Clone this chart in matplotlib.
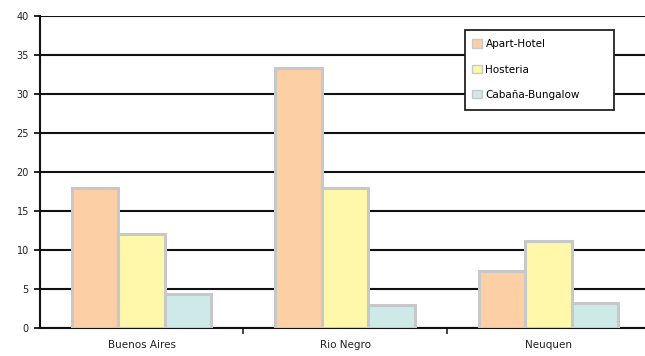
import numpy as np
import matplotlib
matplotlib.use("Agg")
import matplotlib.pyplot as plt
from matplotlib.patches import Patch, Rectangle

plt.rcParams['font.family'] = ['DejaVu Sans']

regions = ['Buenos Aires', 'Rio Negro', 'Neuquen']
apart_hotel = [18, 33.3, 7.3]
hosteria = [12, 18, 11.2]
cabana = [4.4, 3, 3.2]
series_names = ['Apart-Hotel', 'Hosteria', 'Cabaña-Bungalow']
colors = ['#fdcfa5', '#fff8aa', '#cde9e8']
edge = '#c6c8ca'

fig = plt.figure(figsize=(6.45, 3.56), dpi=100)
ax = fig.add_axes([40 / 645, 28 / 356, 610 / 645, 312 / 356])

x = np.arange(len(regions))
w = 0.228
for i, vals in enumerate([apart_hotel, hosteria, cabana]):
    ax.bar(x + (i - 1) * w, vals, width=w, color=colors[i],
           edgecolor=edge, linewidth=2.2, zorder=3)

ax.set_xlim(-0.5, 2.5)
ax.set_ylim(0, 40)
ax.set_yticks(np.arange(0, 41, 5))
ax.yaxis.grid(True, color='#111111', linewidth=1.5, zorder=1)
ax.set_axisbelow(True)

# category labels centered, ticks on the category boundaries
ax.set_xticks([0.5, 1.5])
ax.set_xticklabels([])
ax.set_xticks(x, minor=True)
ax.set_xticklabels(regions, minor=True)
ax.tick_params(axis='x', which='minor', length=0, pad=9, labelsize=7.5, labelcolor='#222222')
ax.tick_params(axis='x', which='major', length=4, width=1.2, color='#222222')
ax.tick_params(axis='y', length=4, width=1.2, labelsize=7, labelcolor='#222222', pad=4)

for s in ['top', 'right']:
    ax.spines[s].set_visible(False)
for s in ['left', 'bottom']:
    ax.spines[s].set_linewidth(1.5)
    ax.spines[s].set_color('#111111')

# legend box drawn separately so it can be wider than the text
box = Rectangle((465 / 645, 1 - 110 / 356), 149 / 645, 80 / 356,
                transform=fig.transFigure, facecolor='white',
                edgecolor='#222222', linewidth=1.3, zorder=4)
fig.patches.append(box)

handles = [Patch(facecolor=c, edgecolor=edge, linewidth=1) for c in colors]
leg = fig.legend(handles, series_names, loc='upper left',
                 bbox_to_anchor=(462 / 645, 1 - 29 / 356),
                 frameon=False, fontsize=7.5,
                 handlelength=0.9, handleheight=0.9, handletextpad=0.35,
                 labelspacing=1.45, borderpad=0.5)
leg.set_zorder(5)

fig.savefig('out.png', dpi=100)
